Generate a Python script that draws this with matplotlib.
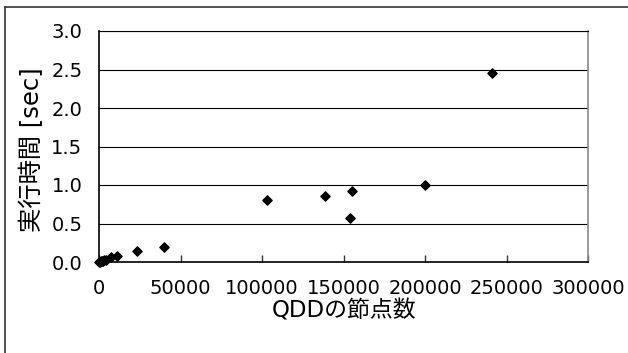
import matplotlib
matplotlib.use("Agg")
import matplotlib.pyplot as plt
from matplotlib.lines import Line2D

plt.rcParams['font.family'] = ['DejaVu Sans', 'Noto Sans CJK JP']

# data (QDD node count, execution time in sec)
nodes = [300, 800, 1200, 1800, 2500, 3200, 4000, 7200, 11200, 23500, 39900,
         103000, 138600, 154000, 155200, 200000, 241000]
times = [0.0, 0.005, 0.01, 0.01, 0.015, 0.02, 0.03, 0.069, 0.078, 0.147, 0.19,
         0.805, 0.857, 0.575, 0.926, 1.0, 2.46]

xticks = [0, 50000, 100000, 150000, 200000, 250000, 300000]
yticks = [0.0, 0.5, 1.0, 1.5, 2.0, 2.5, 3.0]
xlabel = "QDDの節点数"
ylabel = "実行時間 [sec]"

W, H = 628, 353
fig = plt.figure(figsize=(W / 100, H / 100), dpi=100)
ax = fig.add_axes([99 / W, 1 - 262 / H, (588 - 99) / W, (262 - 31) / H])

ax.scatter(nodes, times, marker='D', s=22, color='black', zorder=3, clip_on=False)

ax.set_xlim(0, 300000)
ax.set_ylim(0, 3.0)
ax.set_xticks(xticks)
ax.set_yticks(yticks)
ax.set_xticklabels([str(v) for v in xticks])
ax.set_yticklabels([f"{v:.1f}" for v in yticks])

ax.yaxis.grid(True, color='black', linewidth=0.8)
ax.set_axisbelow(True)
ax.tick_params(axis='x', direction='in', length=5, width=1, labelsize=14, pad=12, color='#333333')
ax.tick_params(axis='y', direction='in', length=0, labelsize=14, pad=12)

for s in ['left', 'bottom']:
    ax.spines[s].set_color('black')
    ax.spines[s].set_linewidth(1.2)
ax.spines['top'].set_color('black')
ax.spines['top'].set_linewidth(0.8)
ax.spines['right'].set_color('#888888')
ax.spines['right'].set_linewidth(1.2)

fig.text(344 / W, 1 - 311 / H, xlabel, ha='center', va='center', fontsize=16.5)
fig.text(32 / W, 1 - 150 / H, ylabel, ha='center', va='center', fontsize=17.5, rotation=90)

# chart area border (top and left visible)
fig.add_artist(Line2D([5 / W, 5 / W], [0, 1 - 7 / H], transform=fig.transFigure, color='#333333', linewidth=1.2))
fig.add_artist(Line2D([5 / W, 1], [1 - 7 / H, 1 - 7 / H], transform=fig.transFigure, color='#333333', linewidth=1.2))

fig.savefig("out.png", dpi=100)
